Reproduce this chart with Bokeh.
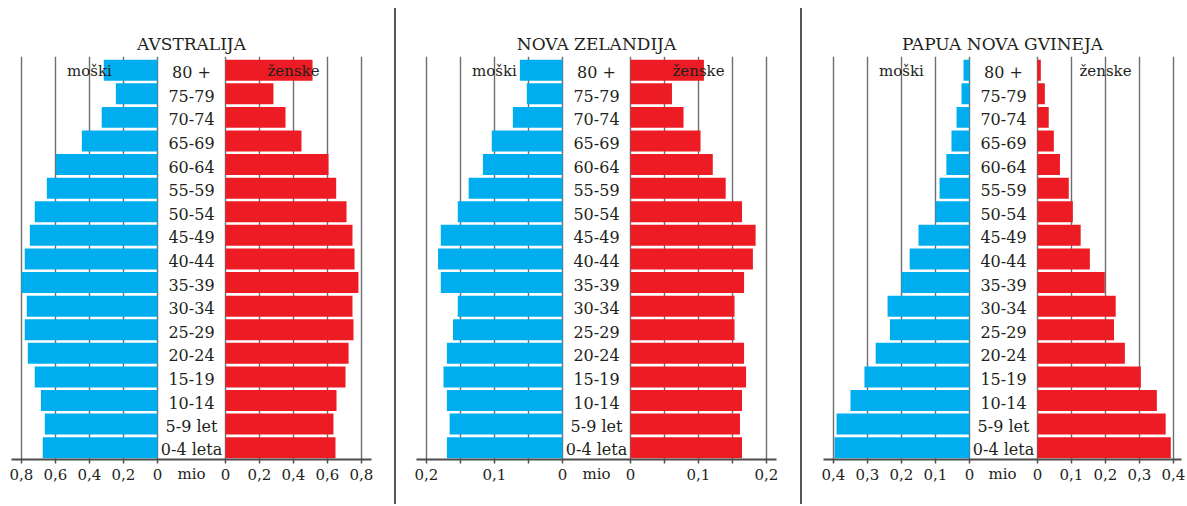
from bokeh.plotting import figure
from bokeh.layouts import row
from bokeh.models import FixedTicker, CustomJSTickFormatter, Div, ColumnDataSource
from bokeh.core.properties import value
from bokeh.embed import file_html
from bokeh.resources import INLINE

ages = ["0-4 leta", "5-9 let", "10-14", "15-19", "20-24", "25-29", "30-34", "35-39",
        "40-44", "45-49", "50-54", "55-59", "60-64", "65-69", "70-74", "75-79", "80 +"]

aus_m = [0.675, 0.663, 0.686, 0.722, 0.763, 0.781, 0.769, 0.800, 0.781, 0.751, 0.722, 0.651, 0.598, 0.445, 0.328, 0.245, 0.316]
aus_f = [0.647, 0.635, 0.653, 0.706, 0.724, 0.753, 0.747, 0.782, 0.759, 0.747, 0.712, 0.651, 0.606, 0.447, 0.353, 0.282, 0.512]
nz_m = [0.170, 0.166, 0.170, 0.175, 0.170, 0.161, 0.154, 0.179, 0.183, 0.179, 0.154, 0.138, 0.117, 0.104, 0.073, 0.0525, 0.0627]
nz_f = [0.164, 0.161, 0.164, 0.170, 0.167, 0.153, 0.153, 0.167, 0.180, 0.184, 0.164, 0.140, 0.121, 0.103, 0.078, 0.061, 0.108]
png_m = [0.397, 0.391, 0.350, 0.309, 0.276, 0.234, 0.241, 0.200, 0.176, 0.150, 0.100, 0.088, 0.068, 0.053, 0.038, 0.0235, 0.0176]
png_f = [0.392, 0.377, 0.351, 0.304, 0.257, 0.225, 0.230, 0.198, 0.154, 0.127, 0.104, 0.092, 0.066, 0.048, 0.033, 0.0216, 0.0098]

titles = ["AVSTRALIJA", "NOVA ZELANDIJA", "PAPUA NOVA GVINEJA"]
axis_max = [0.8, 0.2, 0.4]
tick_step = [0.2, 0.05, 0.1]
label_step = [0.2, 0.1, 0.1]
male_label = "moški"
female_label = "ženske"
unit_label = "mio"

BLUE = "#00AEEF"
RED = "#ED1C24"
TXT = "#231F20"
FONT = "DejaVu Serif"
H = 504
TOP = 56
FRAME_H = 403


def make_panel(title, male, female, amax, tstep, lstep, bl, br, gml, gmr):
    half = amax / 4.0
    scale = 340.0 / (2.5 * amax)
    x0 = -(half + amax) - gml / scale
    x1 = (half + amax) + gmr / scale
    frame_w = 340 + gml + gmr
    p = figure(width=bl + frame_w + br, height=H, x_range=(x0, x1), y_range=(-0.5, 16.58),
               min_border_left=bl, min_border_right=br, min_border_top=TOP,
               min_border_bottom=H - TOP - FRAME_H,
               title=title, toolbar_location=None, output_backend="svg", y_axis_location=None)
    p.outline_line_color = None
    p.title.align = "center"
    p.title.text_font = FONT
    p.title.text_font_size = "17px"
    p.title.text_font_style = "normal"
    p.title.text_color = TXT
    p.title.standoff = 6

    idx = list(range(len(ages)))
    src = ColumnDataSource(dict(
        y=idx, age=ages,
        ml=[-half - v for v in male], mr=[-half] * len(male),
        fl=[half] * len(female), fr=[half + v for v in female],
        cx=[0.0] * len(ages)))
    p.hbar(y="y", left="ml", right="mr", height=0.89, fill_color=BLUE, line_color=None, source=src)
    p.hbar(y="y", left="fl", right="fr", height=0.89, fill_color=RED, line_color=None, source=src)
    p.text(x="cx", y="y", text="age", source=src, text_align="center", text_baseline="middle",
           y_offset=2, text_font=value(FONT), text_font_size="16px", text_color=TXT)
    p.text(x=[-(half + amax / 2), half + amax / 2], y=[len(ages) - 1] * 2, text=[male_label, female_label],
           text_align="center", text_baseline="middle", y_offset=1,
           text_font=value(FONT), text_font_size="15px", text_color=TXT)

    n = int(round(amax / tstep))
    ticks = [-(half + k * tstep) for k in range(n, -1, -1)] + [half + k * tstep for k in range(n + 1)]
    ax = p.xaxis[0]
    ax.ticker = FixedTicker(ticks=ticks)
    ax.formatter = CustomJSTickFormatter(args=dict(half=half, ls=lstep), code="""
        const v = Math.abs(tick) - half;
        if (Math.abs(v) < 1e-9) return "0";
        const r = Math.round(v / ls);
        if (Math.abs(v - r * ls) > 1e-6) return "";
        return v.toFixed(1).replace(".", ",");
    """)
    ax.axis_line_color = "#4d4d4d"
    ax.axis_line_width = 2
    ax.major_tick_out = 4
    ax.major_tick_in = 0
    ax.major_tick_line_color = "#4d4d4d"
    ax.major_tick_line_width = 1.5
    ax.minor_tick_line_color = None
    ax.major_label_text_font = FONT
    ax.major_label_text_font_size = "15px"
    ax.major_label_text_color = TXT
    ax.major_label_standoff = 5
    ax.axis_label = unit_label
    ax.axis_label_text_font = FONT
    ax.axis_label_text_font_size = "15px"
    ax.axis_label_text_font_style = "normal"
    ax.axis_label_text_color = TXT
    ax.axis_label_standoff = -18
    p.xgrid.grid_line_color = "#6d6e71"
    p.xgrid.grid_line_width = 1.4
    p.ygrid.visible = False
    return p


p1 = make_panel(titles[0], aus_m, aus_f, axis_max[0], tick_step[0], label_step[0], 11, 23, 10, 10)
p2 = make_panel(titles[1], nz_m, nz_f, axis_max[1], tick_step[1], label_step[1], 20, 24, 10, 10)
p3 = make_panel(titles[2], png_m, png_f, axis_max[2], tick_step[2], label_step[2], 21, 4, 10, 8)


def sep():
    return Div(text="", width=2, height=H - 8, margin=(8, 0, 0, 0),
               styles={"background-color": "#555555"})


layout = row(p1, sep(), p2, sep(), p3)
open("out.html", "w").write(file_html(layout, INLINE))
